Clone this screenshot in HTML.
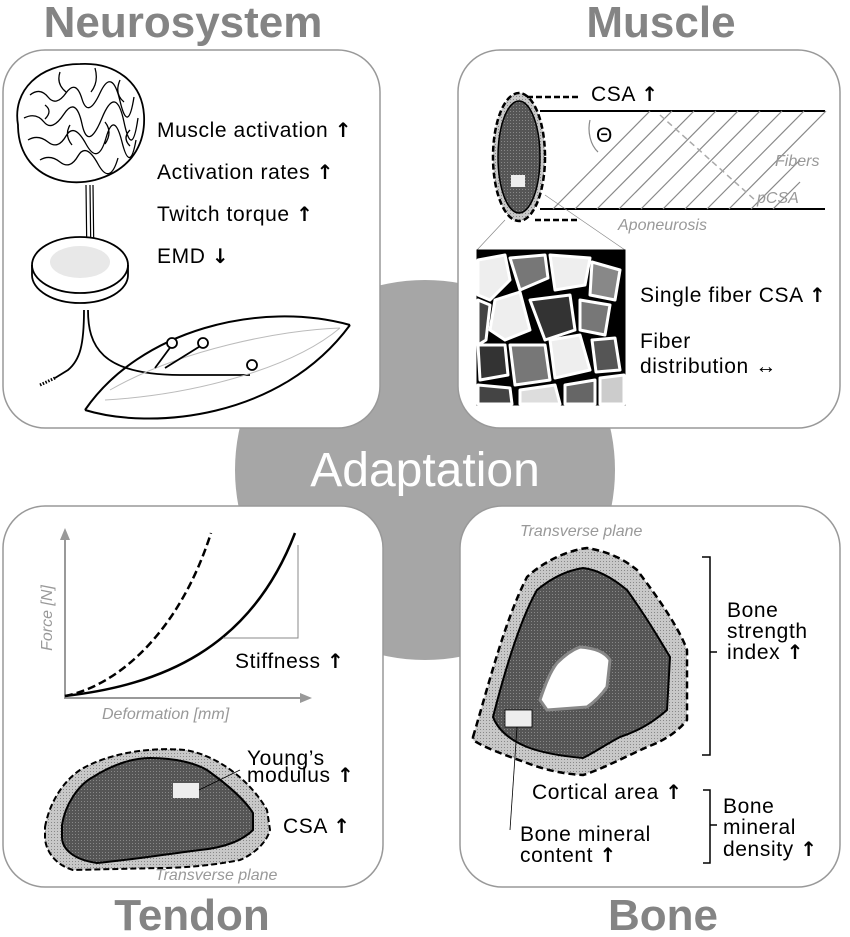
<!DOCTYPE html>
<html><head><meta charset="utf-8"><style>
html,body{margin:0;padding:0;background:#fff;}
svg{display:block;}
text{font-family:"Liberation Sans","DejaVu Sans",sans-serif;}
.t{font-size:21px;fill:#000;letter-spacing:0.6px;}
.a{font-family:"DejaVu Sans",sans-serif;font-weight:bold;font-size:20px;}
.h{font-size:44px;font-weight:bold;fill:#848484;}
.g{font-size:16px;font-style:italic;fill:#999;}
</style></head><body>
<svg width="850" height="937" viewBox="0 0 850 937" xmlns="http://www.w3.org/2000/svg">
<defs>
<pattern id="dots" width="3" height="3" patternUnits="userSpaceOnUse"><rect width="3" height="3" fill="#555"/><rect width="1" height="1" fill="#888"/></pattern>
<pattern id="ldots" width="3" height="3" patternUnits="userSpaceOnUse"><rect width="3" height="3" fill="#c8c8c8"/><rect width="1" height="1" fill="#888"/></pattern>
</defs>
<circle cx="425" cy="470" r="190" fill="#a6a6a6"/>
<rect x="3" y="50" width="377" height="378" rx="42" fill="#fff" stroke="#999" stroke-width="1.5"/>
<rect x="458" y="50" width="382" height="378" rx="42" fill="#fff" stroke="#999" stroke-width="1.5"/>
<rect x="3" y="506" width="380" height="381" rx="42" fill="#fff" stroke="#999" stroke-width="1.5"/>
<rect x="460" y="506" width="380" height="381" rx="42" fill="#fff" stroke="#999" stroke-width="1.5"/>
<text x="425" y="486" text-anchor="middle" font-size="48" fill="#fff">Adaptation</text>
<text class="h" x="183" y="37" text-anchor="middle">Neurosystem</text>
<text class="h" x="661" y="37" text-anchor="middle">Muscle</text>
<text class="h" x="192" y="930" text-anchor="middle">Tendon</text>
<text class="h" x="663" y="930" text-anchor="middle">Bone</text>

<!-- Neuro -->
<g fill="none" stroke="#000" stroke-width="1.8">
<path d="M18,125 C12,90 40,64 80,64 C115,62 142,82 144,115 C146,150 125,172 95,180 C70,186 45,180 30,162 C22,152 18,140 18,125Z" fill="#fff"/>
<path d="M30,95 q10,-8 18,2 t18,-4 t16,6 t18,-6 t20,8 t14,-4 M24,118 q12,-6 20,4 t20,-8 t18,10 t20,-6 t22,4 t14,-4 M28,140 q10,-6 20,2 t18,-6 t20,8 t20,-6 t16,4 t14,-2 M40,160 q10,-6 20,2 t18,-6 t20,8 t20,-6 M60,72 q-4,12 6,20 M95,68 q4,14 -4,24 M120,80 q-6,14 4,22 M70,125 q-6,10 2,20 M105,122 q8,10 0,22 M45,105 q8,6 0,14 M130,130 q-8,8 0,16" stroke-width="1.3"/>
<path d="M86,185 L87,265 M90,185 L91,265 M93,185 L94,265" stroke-width="1.2"/>
<ellipse cx="80" cy="265" rx="48" ry="28" fill="#fff"/>
<path d="M32,265 L32,275 A48,28 0 0 0 128,275 L128,265"/>
<ellipse cx="80" cy="262" rx="30" ry="16" fill="#e8e8e8" stroke="none"/>
<path d="M84,310 C84,345 80,360 68,370 L55,378 M88,310 C88,345 100,375 180,375 L250,375"/>
<path d="M40,385 L55,378" stroke-dasharray="1.5,1.5" stroke-width="3"/>
<path d="M85,410 C140,330 260,300 350,325 M85,410 C150,430 280,420 350,325" stroke-width="2"/>
<path d="M110,390 C180,350 280,330 340,328 M105,400 C190,395 290,370 340,328" stroke="#bbb" stroke-width="1"/>
<path d="M155,368 L172,345 M165,368 L202,345"/>
<circle cx="172" cy="343" r="5" fill="#fff"/><circle cx="203" cy="343" r="5" fill="#fff"/><circle cx="252" cy="365" r="5" fill="#fff"/>
</g>
<text class="t" x="157" y="137">Muscle activation <tspan class="a">↑</tspan></text>
<text class="t" x="157" y="179">Activation rates <tspan class="a">↑</tspan></text>
<text class="t" x="157" y="221">Twitch torque <tspan class="a">↑</tspan></text>
<text class="t" x="157" y="263">EMD <tspan class="a">↓</tspan></text>

<!-- Muscle -->
<g fill="none" stroke="#000">
<line x1="540" y1="111" x2="825" y2="111" stroke-width="2"/>
<line x1="540" y1="209" x2="825" y2="209" stroke-width="2"/>
<g stroke="#888" stroke-width="1.2">
<line x1="553" y1="209" x2="650" y2="111"/><line x1="575" y1="209" x2="672" y2="111"/><line x1="597" y1="209" x2="694" y2="111"/><line x1="619" y1="209" x2="716" y2="111"/><line x1="641" y1="209" x2="738" y2="111"/><line x1="663" y1="209" x2="760" y2="111"/><line x1="685" y1="209" x2="782" y2="111"/><line x1="707" y1="209" x2="804" y2="111"/><line x1="729" y1="209" x2="826" y2="111"/><line x1="751" y1="209" x2="800" y2="160"/><line x1="773" y1="209" x2="800" y2="182"/>
<path d="M590,120 A20,28 0 0 0 598,152"/>
</g>
<line x1="660" y1="115" x2="755" y2="200" stroke="#aaa" stroke-width="1.5" stroke-dasharray="6,4"/>
<ellipse cx="519" cy="157" rx="26" ry="64" fill="url(#ldots)" stroke-width="2.5" stroke-dasharray="6,3"/>
<ellipse cx="519" cy="157" rx="21" ry="56" fill="url(#dots)" stroke-width="1.5"/>
<rect x="511" y="175" width="14" height="12" fill="#eee" stroke="none"/>
<path d="M527,97 L578,97 M535,220 L578,220" stroke-width="2.5" stroke-dasharray="6,3"/>
<path d="M505,220 L477,250 M545,195 L625,250" stroke="#888" stroke-width="0.7"/>
<rect x="477" y="250" width="148" height="155" fill="#000" stroke-width="1"/>
<g stroke="#fff" stroke-width="3" stroke-linejoin="round">
<path d="M478,260 L505,255 L510,280 L490,300 L478,295Z" fill="#eee"/>
<path d="M510,258 L545,255 L548,278 L520,290Z" fill="#777"/>
<path d="M550,255 L590,258 L585,285 L555,290Z" fill="#eee"/>
<path d="M592,262 L620,270 L615,300 L590,295Z" fill="#888"/>
<path d="M495,300 L520,292 L530,330 L505,340 L490,330Z" fill="#eee"/>
<path d="M530,300 L570,295 L575,330 L545,340Z" fill="#333"/>
<path d="M580,300 L610,305 L605,335 L580,330Z" fill="#777"/>
<path d="M478,300 L490,305 L486,340 L478,345Z" fill="#444"/>
<path d="M478,345 L505,345 L508,375 L480,380Z" fill="#333"/>
<path d="M510,345 L545,345 L550,380 L515,385Z" fill="#777"/>
<path d="M550,340 L580,335 L590,370 L555,378Z" fill="#eee"/>
<path d="M592,340 L615,338 L620,370 L596,372Z" fill="#555"/>
<path d="M600,378 L624,375 L624,404 L600,404Z" fill="#ccc"/>
<path d="M478,385 L510,388 L512,404 L478,404Z" fill="#444"/>
<path d="M520,390 L555,385 L560,404 L520,404Z" fill="#ddd"/>
<path d="M565,385 L595,380 L595,404 L565,404Z" fill="#666"/>
</g>
</g>
<text class="t" x="591" y="101">CSA <tspan class="a">↑</tspan></text>
<text class="t" x="596" y="142">Θ</text>
<text class="g" x="775" y="166">Fibers</text>
<text class="g" x="757" y="203">pCSA</text>
<text class="g" x="618" y="230">Aponeurosis</text>
<text class="t" x="640" y="302">Single fiber CSA <tspan class="a">↑</tspan></text>
<text class="t" x="640" y="348">Fiber</text>
<text class="t" x="640" y="373">distribution ↔</text>

<!-- Tendon -->
<g fill="none">
<path d="M65,532 L65,698 L305,698" stroke="#999" stroke-width="2"/>
<path d="M60,540 L65,528 L70,540Z" fill="#999"/>
<path d="M300,693 L312,698 L300,703Z" fill="#999"/>
<path d="M65,696 C120,685 180,630 211,533" stroke="#000" stroke-width="2.5" stroke-dasharray="8,4"/>
<path d="M65,696 C160,685 250,650 295,533" stroke="#000" stroke-width="2.5"/>
<path d="M223,638 L298,638 L298,545" stroke="#888" stroke-width="1"/>
<path d="M45,827 C50,800 65,780 80,770 C110,752 153,747 185,750 C217,755 250,780 267,810 L270,830 C265,848 245,858 240,860 C210,866 180,868 160,868 L73,870 C55,865 45,850 45,837Z" fill="url(#ldots)" stroke="#000" stroke-width="2" stroke-dasharray="6,3"/>
<path d="M62,825 C65,805 78,785 93,777 C115,763 135,758 150,758 C175,758 195,763 207,770 C228,785 245,800 253,813 L253,830 C240,843 220,848 200,850 C160,855 130,860 97,863 C75,860 62,850 62,837Z" fill="url(#dots)" stroke="#000" stroke-width="2"/>
<rect x="173" y="783" width="26" height="15" fill="#eee"/>
<path d="M199,790 L240,770" stroke="#000" stroke-width="0.8"/>
</g>
<text x="52" y="618" transform="rotate(-90 52 618)" class="g" text-anchor="middle">Force [N]</text>
<text class="g" x="102" y="719">Deformation [mm]</text>
<text class="t" x="235" y="668">Stiffness <tspan class="a">↑</tspan></text>
<text class="t" x="247" y="765">Young’s</text>
<text class="t" x="247" y="782">modulus <tspan class="a">↑</tspan></text>
<text class="t" x="283" y="833">CSA <tspan class="a">↑</tspan></text>
<text class="g" x="155" y="880">Transverse plane</text>

<!-- Bone -->
<g fill="none" stroke="#000">
<path d="M473,737 C490,680 505,620 527,577 C545,560 570,550 587,548 C610,552 625,560 637,570 C660,600 680,630 687,650 L687,720 C675,735 660,742 647,747 C625,757 600,770 583,775 C560,774 540,768 527,763 C505,755 485,748 473,740 Z" fill="url(#ldots)" stroke-width="2.5" stroke-dasharray="7,4" stroke-linejoin="round"/>
<path d="M493,717 C505,670 520,620 537,590 C555,575 570,570 583,568 C600,570 615,580 627,590 C645,615 660,640 670,657 L667,710 C650,725 635,732 620,737 C605,745 595,752 583,758 C560,756 540,752 527,747 C510,740 498,730 493,717 Z" fill="url(#dots)" stroke-width="2" stroke-linejoin="round"/>
<path d="M540,700 C545,685 550,672 557,663 C565,655 572,650 580,647 C595,648 605,652 610,660 L607,687 C600,697 593,703 587,707 L547,710Z" fill="#fff" stroke="#888" stroke-width="3" stroke-linejoin="round"/>
<rect x="505" y="710" width="27" height="17" fill="#eee" stroke-width="0.8"/>
<path d="M517,727 L510,830" stroke-width="0.8"/>
<path d="M702,557 L710,557 L710,755 L702,755 M710,652 L717,652 M703,790 L710,790 L710,863 L703,863 M710,825 L717,825" stroke-width="1.5"/>
</g>
<text class="g" x="520" y="536">Transverse plane</text>
<text class="t" x="727" y="617">Bone</text>
<text class="t" x="727" y="638">strength</text>
<text class="t" x="727" y="659">index <tspan class="a">↑</tspan></text>
<text class="t" x="532" y="799">Cortical area <tspan class="a">↑</tspan></text>
<text class="t" x="520" y="841">Bone mineral</text>
<text class="t" x="520" y="862">content <tspan class="a">↑</tspan></text>
<text class="t" x="723" y="813">Bone</text>
<text class="t" x="723" y="834">mineral</text>
<text class="t" x="723" y="856">density <tspan class="a">↑</tspan></text>
</svg>
</body></html>
